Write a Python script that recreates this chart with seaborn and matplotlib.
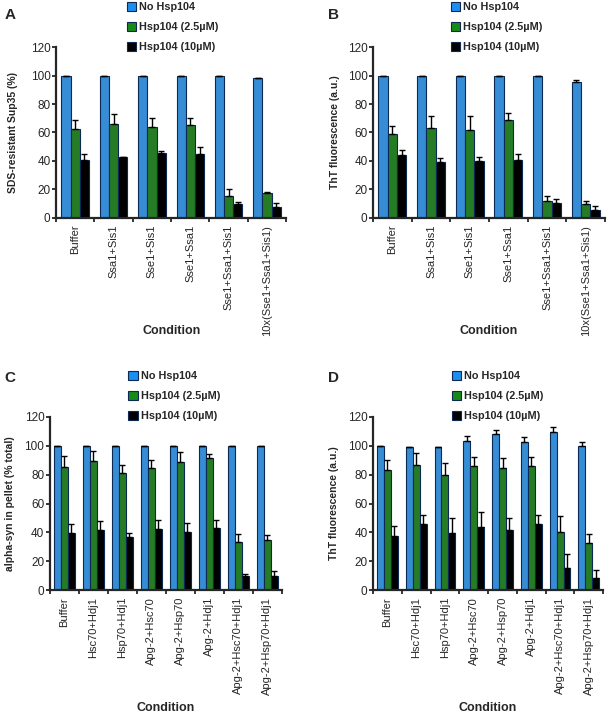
import numpy as np
import pandas as pd
import matplotlib
matplotlib.use('Agg')
import matplotlib.pyplot as plt
import seaborn as sns
from matplotlib.patches import Patch

sns.set_style('ticks')
plt.rcParams['font.family'] = ['Liberation Sans', 'DejaVu Sans']

# legend / hue levels
levels = ['No Hsp104', 'Hsp104 (2.5µM)', 'Hsp104 (10µM)']
colors = ['#1b8ff0', '#178a17', '#000000']

# yeast chaperones (panels A, B)
yeast_cond = ['Buffer', 'Ssa1+Sis1', 'Sse1+Sis1', 'Sse1+Ssa1',
              'Sse1+Ssa1+Sis1', '10x(Sse1+Ssa1+Sis1)']
# human chaperones (panels C, D)
human_cond = ['Buffer', 'Hsc70+Hdj1', 'Hsp70+Hdj1', 'Apg-2+Hsc70',
              'Apg-2+Hsp70', 'Apg-2+Hdj1', 'Apg-2+Hsc70+Hdj1', 'Apg-2+Hsp70+Hdj1']

# A: SDS-resistant Sup35
a_none = [100, 100, 100, 100, 100, 98.5]
a_none_err = [0, 0, 0, 0, 0, 0]
a_low = [62.4, 65.7, 63.5, 65, 15.5, 17.3]
a_low_err = [6.3, 7.2, 6.8, 5.5, 4.5, 0.8]
a_high = [40.4, 42.5, 45.5, 44.6, 9.8, 7.7]
a_high_err = [4.6, 0.5, 1.5, 5.2, 1.2, 2.8]

# B: ThT fluorescence (yeast)
b_none = [100, 100, 100, 100, 100, 95.5]
b_none_err = [0, 0, 0, 0, 0, 1.2]
b_low = [59, 63.3, 61.4, 68.5, 11.5, 9.8]
b_low_err = [5.6, 8.5, 9.9, 5.5, 4.0, 2.0]
b_high = [44.3, 38.9, 40, 40.3, 10.5, 5.2]
b_high_err = [3.7, 2.8, 3, 4.7, 2.7, 3.3]

# C: alpha-syn in pellet
c_none = [100, 100, 100, 100, 100, 100, 100, 100]
c_none_err = [0, 0, 0, 0, 0, 0, 0, 0]
c_low = [85, 89.4, 81, 84.5, 88.5, 91.5, 33, 35]
c_low_err = [8, 6.9, 6, 5.5, 7.1, 3, 6, 3]
c_high = [39.5, 41.6, 36.5, 42.5, 40.4, 42.7, 10, 9.7]
c_high_err = [6, 6.2, 3.2, 6, 5.8, 5.6, 1, 3.3]

# D: ThT fluorescence (human)
d_none = [100, 99.5, 99.5, 103.5, 108.5, 102.8, 109.7, 100]
d_none_err = [0, 0, 0, 3.5, 2.5, 3.2, 3.3, 2.8]
d_low = [83.5, 86.8, 80, 86, 84.5, 85.7, 40.4, 32.3]
d_low_err = [6.5, 8.2, 8, 6.4, 7, 6.7, 10.9, 6.7]
d_high = [37.4, 45.5, 39.3, 43.4, 41.3, 45.5, 15, 8.5]
d_high_err = [7.2, 6.2, 10.4, 10.4, 8.8, 6.2, 10.2, 5.1]


def panel(ax, conds, means, errs, ylabel):
    df = pd.DataFrame({
        'Condition': np.tile(conds, 3),
        'value': np.concatenate(means),
        'group': np.repeat(levels, len(conds)),
    })
    sns.barplot(data=df, x='Condition', y='value', hue='group',
                hue_order=levels, palette=colors, errorbar=None,
                width=0.72, edgecolor='#0a2a55', linewidth=0.8,
                legend=False, ax=ax)
    for cont, m, e in zip(ax.containers, means, errs):
        xs = [b.get_x() + b.get_width() / 2 for b in cont]
        ax.errorbar(xs, m, yerr=[np.zeros(len(e)), e], fmt='none',
                    ecolor='black', elinewidth=1, capsize=2.2, capthick=1)
    n = len(conds)
    ax.set_xlim(-0.5, n - 0.5)
    ax.set_ylim(0, 120)
    ax.set_yticks(range(0, 121, 20))
    ax.set_xticks(range(n))
    ax.set_xticklabels(conds, rotation=90, fontsize=8)
    ax.set_xticks(np.arange(-0.5, n, 1), minor=True)
    ax.tick_params(axis='x', which='major', length=0, pad=5)
    ax.tick_params(axis='x', which='minor', length=3, width=1.3, direction='out')
    ax.tick_params(axis='y', length=3, width=1.3, labelsize=8.5, pad=1)
    ax.set_ylabel(ylabel, fontsize=7.5, fontweight='bold')
    ax.set_xlabel('Condition', fontsize=9, fontweight='bold')
    for s in ['left', 'bottom']:
        ax.spines[s].set_linewidth(1.6)
    sns.despine(ax=ax)


fig = plt.figure(figsize=(6.09, 7.15), dpi=100)
axA = fig.add_axes([0.092, 0.6955, 0.378, 0.2385])
axB = fig.add_axes([0.6125, 0.6955, 0.381, 0.2385])
axC = fig.add_axes([0.082, 0.1748, 0.381, 0.242])
axD = fig.add_axes([0.6125, 0.1748, 0.378, 0.242])

panel(axA, yeast_cond, [a_none, a_low, a_high], [a_none_err, a_low_err, a_high_err],
      'SDS-resistant Sup35 (%)')
panel(axB, yeast_cond, [b_none, b_low, b_high], [b_none_err, b_low_err, b_high_err],
      'ThT fluorescence (a.u.)')
panel(axC, human_cond, [c_none, c_low, c_high], [c_none_err, c_low_err, c_high_err],
      'alpha-syn in pellet (% total)')
panel(axD, human_cond, [d_none, d_low, d_high], [d_none_err, d_low_err, d_high_err],
      'ThT fluorescence (a.u.)')

axA.xaxis.set_label_coords(0.5, -0.63)
axB.xaxis.set_label_coords(0.5, -0.63)
axC.xaxis.set_label_coords(0.5, -0.65)
axD.xaxis.set_label_coords(0.5, -0.645)
axA.yaxis.set_label_coords(-0.165, 0.5)
axB.yaxis.set_label_coords(-0.142, 0.5)
axC.yaxis.set_label_coords(-0.15, 0.5)
axD.yaxis.set_label_coords(-0.148, 0.5)

handles = [Patch(facecolor=c, edgecolor='#0a2a55', linewidth=0.8) for c in colors]
legend_pos = [(0.208, 0.997), (0.740, 0.997), (0.211, 0.481), (0.742, 0.481)]
for lx, ly in legend_pos:
    fig.legend(handles, levels, loc='upper left', bbox_to_anchor=(lx, ly),
               frameon=False, prop={'weight': 'bold', 'size': 7.8},
               handlelength=0.85, handleheight=0.85, handletextpad=0.3,
               labelspacing=0.92, borderaxespad=0, borderpad=0)

for txt, x, y in [('A', 0.008, 0.979), ('B', 0.539, 0.979),
                  ('C', 0.008, 0.471), ('D', 0.539, 0.471)]:
    fig.text(x, y, txt, fontsize=11, fontweight='bold', va='center')

fig.savefig('out.png', dpi=100)
